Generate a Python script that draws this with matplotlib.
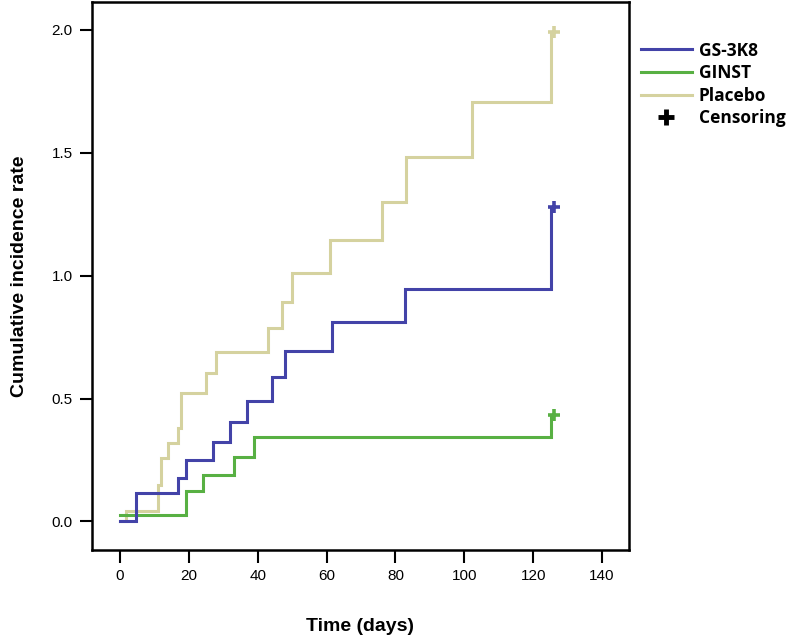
import matplotlib
matplotlib.use("Agg")
import matplotlib.pyplot as plt
from matplotlib.lines import Line2D

plt.rcParams["font.family"] = ["Liberation Sans", "DejaVu Sans"]

# step curves (time in days, cumulative incidence)
placebo_t = [0, 1.9, 11.0, 11.8, 14.0, 16.9, 17.6, 25.0, 27.9, 42.9, 47.0, 50.0, 61.0, 76.0, 83.1, 102.1, 125.2]
placebo_y = [0, 0.043, 0.149, 0.257, 0.321, 0.382, 0.524, 0.606, 0.691, 0.789, 0.894, 1.012, 1.145, 1.301, 1.484, 1.708, 1.993]

gs_t = [0, 4.8, 16.9, 19.1, 27.1, 31.9, 37.0, 44.1, 47.9, 61.7, 82.8, 125.2]
gs_y = [0, 0.115, 0.178, 0.250, 0.322, 0.404, 0.490, 0.589, 0.694, 0.813, 0.945, 1.281]

ginst_t = [0, 19.1, 24.0, 33.1, 39.0, 125.2]
ginst_y = [0.026, 0.125, 0.189, 0.264, 0.345, 0.433]

censor_time = 126.0

names = ["GS-3K8", "GINST", "Placebo"]
colors = ["#4343a8", "#58b043", "#d5d29f"]

x_ticks = [0, 20, 40, 60, 80, 100, 120, 140]
y_ticks = [0.0, 0.5, 1.0, 1.5, 2.0]

fig = plt.figure(figsize=(7.87, 6.41), dpi=100)
ax = fig.add_axes([0.1169, 0.142, 0.6823, 0.855])

series = {
    "GS-3K8": (gs_t, gs_y),
    "GINST": (ginst_t, ginst_y),
    "Placebo": (placebo_t, placebo_y),
}

# draw placebo first so the others sit on top
for name in ["Placebo", "GINST", "GS-3K8"]:
    t, y = series[name]
    c = colors[names.index(name)]
    ax.step(t + [censor_time], y + [y[-1]], where="post", color=c, lw=2.2,
            solid_joinstyle="miter")
    ax.plot([censor_time], [y[-1]], marker="+", color=c, ms=9, mew=2.6,
            linestyle="none")

ax.set_xlim(-8.1, 147.8)
ax.set_ylim(-0.116, 2.114)
ax.set_xticks(x_ticks)
ax.set_xticklabels([str(v) for v in x_ticks])
ax.set_yticks(y_ticks)
ax.set_yticklabels(["%.1f" % v for v in y_ticks])

for sp in ax.spines.values():
    sp.set_linewidth(1.8)
ax.tick_params(direction="out", length=9, width=1.5, labelsize=11,
               colors="black")
ax.tick_params(axis="x", pad=5)
ax.tick_params(axis="y", pad=5)

ax.set_xlabel("Time (days)", fontweight="bold", fontsize=14, labelpad=25)
ax.set_ylabel("Cumulative incidence rate", fontweight="bold", fontsize=14,
              labelpad=17)

handles = [Line2D([0], [0], color=c, lw=2.2) for c in colors]
handles.append(Line2D([0], [0], color="black", marker="+", ms=11, mew=3.5,
                      linestyle="none"))
leg = fig.legend(handles, names + ["Censoring"], loc="upper left",
                 bbox_to_anchor=(0.806, 0.946), frameon=False,
                 prop={"family": ["Open Sans", "DejaVu Sans"], "weight": "bold", "size": 12.5},
                 handlelength=2.9, handletextpad=0.4, labelspacing=0.26,
                 borderaxespad=0)

fig.savefig("out.png", dpi=100)
